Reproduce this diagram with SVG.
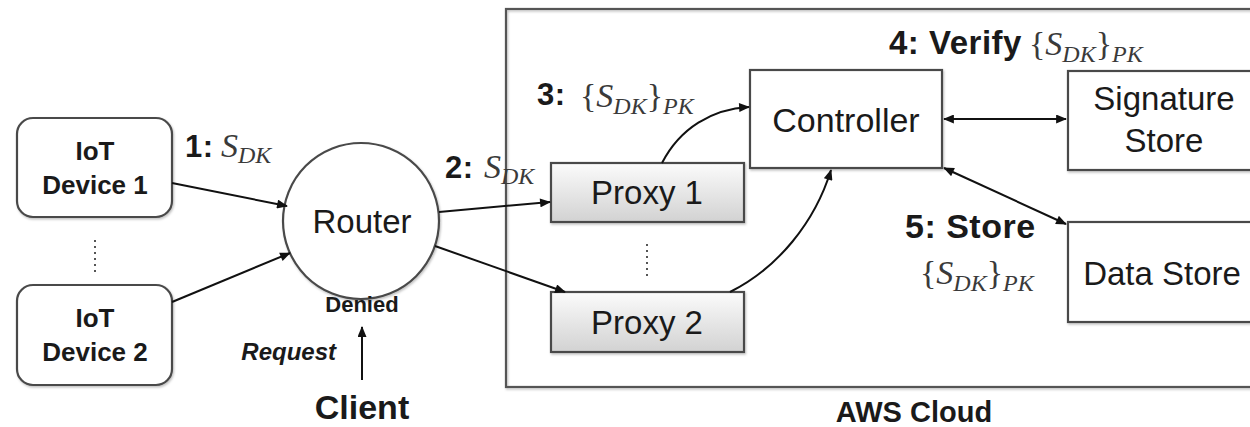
<svg xmlns="http://www.w3.org/2000/svg" width="1250" height="427" viewBox="0 0 1250 427">
  <style>
    .box { fill: #ffffff; stroke: #4a4a4a; stroke-width: 2.2; }
    .proxy { fill: url(#proxyFill); stroke: #4a4a4a; stroke-width: 2.2; }
    .lbl { font-family: "Liberation Sans", Arial, sans-serif; font-size: 33px; fill: #1a1a1a; text-anchor: middle; }
    .dev { font-family: "Liberation Sans", Arial, sans-serif; font-size: 26px; font-weight: bold; fill: #1a1a1a; text-anchor: middle; }
    .step { font-family: "Liberation Sans", Arial, sans-serif; font-size: 31px; font-weight: bold; fill: #1a1a1a; letter-spacing: 0.5px; }
    .math { font-family: "Liberation Serif", "Times New Roman", serif; font-size: 34px; fill: #3a3a3a; }
    .it { font-style: italic; }
    .sub { font-size: 24px; font-style: italic; }
    .wire { fill: none; stroke: #111; stroke-width: 2; }
    .dots { fill: none; stroke: #555; stroke-width: 2; stroke-dasharray: 2 4; }
  </style>
  <defs>
    <linearGradient id="proxyFill" x1="0" y1="0" x2="0" y2="1">
      <stop offset="0" stop-color="#fbfbfb"/>
      <stop offset="1" stop-color="#d2d2d2"/>
    </linearGradient>
    <filter id="soft" x="-10%" y="-10%" width="120%" height="130%">
      <feDropShadow dx="1" dy="1.5" stdDeviation="1.2" flood-color="#000" flood-opacity="0.25"/>
    </filter>
    <marker id="head" viewBox="0 0 12 10" refX="11" refY="5" markerWidth="12" markerHeight="9" markerUnits="userSpaceOnUse" orient="auto-start-reverse">
      <path d="M0,0 L12,5 L0,10 Z" fill="#111"/>
    </marker>
  </defs>

  <!-- cloud container -->
  <g id="aws-cloud">
    <rect x="506" y="9" width="760" height="378" fill="none" stroke="#555" stroke-width="2.2" filter="url(#soft)"/>
    <text x="914" y="422" class="lbl" style="font-size:29px;font-weight:bold">AWS Cloud</text>
  </g>

  <!-- devices -->
  <g id="iot-device-1">
    <rect x="17" y="118" width="155" height="99" rx="16" class="box" filter="url(#soft)"/>
    <text x="95" y="160" class="dev">IoT</text>
    <text x="95" y="194" class="dev">Device 1</text>
  </g>
  <g id="iot-device-2">
    <rect x="17" y="285" width="155" height="100" rx="16" class="box" filter="url(#soft)"/>
    <text x="95" y="327" class="dev">IoT</text>
    <text x="95" y="361" class="dev">Device 2</text>
  </g>
  <path d="M95,240 V274" class="dots"/>

  <!-- router -->
  <g id="router">
    <circle cx="361" cy="221" r="78" class="box" filter="url(#soft)"/>
    <text x="362" y="233" class="lbl">Router</text>
  </g>

  <g id="client">
    <text x="362" y="419" class="lbl" style="font-size:34px;font-weight:bold">Client</text>
  </g>

  <!-- proxies -->
  <g id="proxy-1">
    <rect x="551" y="163" width="193" height="59" class="proxy" filter="url(#soft)"/>
    <text x="647" y="204" class="lbl">Proxy 1</text>
  </g>
  <g id="proxy-2">
    <rect x="551" y="292" width="193" height="60" class="proxy" filter="url(#soft)"/>
    <text x="647" y="334" class="lbl">Proxy 2</text>
  </g>
  <path d="M647,244 V278" class="dots"/>

  <g id="controller">
    <rect x="750" y="70" width="192" height="98" class="box" filter="url(#soft)"/>
    <text x="846" y="132" class="lbl" style="font-size:34px">Controller</text>
  </g>

  <g id="signature-store">
    <rect x="1068" y="71" width="200" height="99" class="box" filter="url(#soft)"/>
    <text x="1164" y="110" class="lbl">Signature</text>
    <text x="1164" y="152" class="lbl">Store</text>
  </g>

  <g id="data-store">
    <rect x="1068" y="222" width="200" height="100" class="box" filter="url(#soft)"/>
    <text x="1162" y="285" class="lbl">Data Store</text>
  </g>

  <!-- connectors -->
  <g id="connectors">
    <path d="M172,183 L287,206" class="wire" marker-end="url(#head)"/>
    <path d="M172,302 L290,253" class="wire" marker-end="url(#head)"/>
    <path d="M362,380 L362,327" class="wire" marker-end="url(#head)"/>
    <path d="M439,212 L550,202" class="wire" marker-end="url(#head)"/>
    <path d="M435,246 L565,292" class="wire" marker-end="url(#head)"/>
    <path d="M662,163 C680,128 712,109 749,107" class="wire" marker-end="url(#head)"/>
    <path d="M730,292 C778,268 815,222 831,170" class="wire" marker-end="url(#head)"/>
    <path d="M944,119 L1066,119" class="wire" marker-start="url(#head)" marker-end="url(#head)"/>
    <path d="M944,168 L1066,224" class="wire" marker-start="url(#head)" marker-end="url(#head)"/>
  </g>

  <!-- message labels -->
  <g id="labels">
    <text x="185" y="157" class="step">1:</text>
    <text x="221" y="157" class="math"><tspan class="it">S</tspan><tspan class="sub" dy="6">DK</tspan></text>

    <text x="445" y="178" class="step">2:</text>
    <text x="484" y="178" class="math"><tspan class="it">S</tspan><tspan class="sub" dy="6">DK</tspan></text>

    <text x="537" y="105" class="step">3:</text>
    <text x="580" y="107" class="math">{<tspan class="it">S</tspan><tspan class="sub" dy="7">DK</tspan><tspan dy="-7">}</tspan><tspan class="sub" dy="7">PK</tspan></text>

    <text x="889" y="54" class="step" style="font-size:33px">4: Verify</text>
    <text x="1029" y="55" class="math">{<tspan class="it">S</tspan><tspan class="sub" dy="7">DK</tspan><tspan dy="-7">}</tspan><tspan class="sub" dy="7">PK</tspan></text>

    <text x="905" y="238" class="step" style="font-size:34px">5: Store</text>
    <text x="920" y="284" class="math">{<tspan class="it">S</tspan><tspan class="sub" dy="7">DK</tspan><tspan dy="-7">}</tspan><tspan class="sub" dy="7">PK</tspan></text>

    <text x="362" y="312" class="step" style="font-size:22px;letter-spacing:0;text-anchor:middle">Denied</text>
    <text x="336" y="360" class="step" style="font-size:24px;letter-spacing:0;font-style:italic;text-anchor:end">Request</text>
  </g>
</svg>
